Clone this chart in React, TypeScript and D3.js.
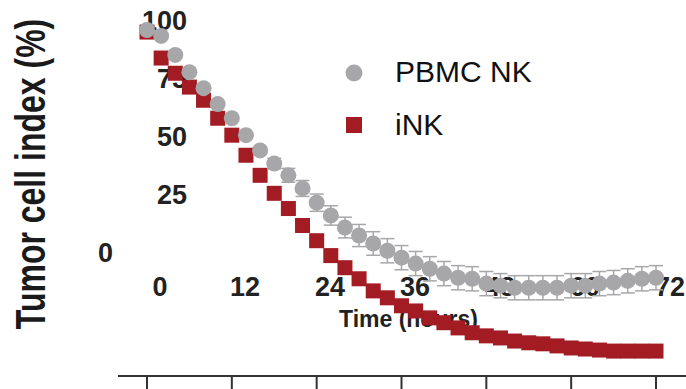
import * as d3 from 'd3';

const hours = [0, 2, 4, 6, 8, 10, 12, 14, 16, 18, 20, 22, 24, 26, 28, 30, 32, 34, 36, 38, 40, 42, 44, 46, 48, 50, 52, 54, 56, 58, 60, 62, 64, 66, 68, 70, 72];
const pbmcNK = [100, 98.3, 92.8, 87.8, 83.2, 78.6, 74.5, 69.6, 65.2, 61.4, 58.0, 54.2, 50.1, 46.4, 42.9, 40.6, 38.3, 36.2, 34.2, 32.5, 31.0, 29.6, 28.4, 28.1, 26.7, 26.1, 25.5, 25.5, 25.5, 25.5, 26.1, 26.1, 26.7, 27.0, 27.5, 28.1, 28.4];
const pbmcErr = [0.5, 0.5, 0.5, 0.5, 0.5, 0.5, 0.6, 0.8, 1.0, 1.5, 2.0, 2.3, 2.5, 2.8, 3.0, 3.2, 3.4, 3.5, 3.5, 3.5, 3.5, 3.5, 3.5, 3.5, 3.5, 3.5, 3.5, 3.5, 3.5, 3.5, 3.5, 3.5, 3.5, 3.5, 3.5, 3.5, 3.5];
const iNK = [99.4, 91.9, 87.5, 83.5, 79.7, 74.5, 69.6, 63.8, 58.0, 52.8, 48.4, 43.5, 39.1, 34.8, 31.3, 28.1, 24.6, 22.6, 20.3, 18.8, 16.8, 15.4, 13.9, 12.5, 11.6, 11.0, 10.1, 9.6, 9.3, 8.7, 8.1, 7.8, 7.5, 7.2, 7.2, 7.2, 7.2];
const iNKErr = [0.5, 0.5, 0.5, 0.5, 0.5, 0.5, 0.5, 0.5, 0.6, 0.6, 0.7, 0.7, 0.8, 0.8, 0.8, 0.9, 0.9, 1.0, 1.0, 1.0, 1.0, 1.0, 1.1, 1.1, 1.2, 1.2, 1.2, 1.3, 1.3, 1.3, 1.4, 1.4, 1.5, 1.5, 1.5, 1.5, 1.5];
const xTickLabels = [0, 12, 24, 36, 48, 60, 72];
const yTickLabels = [0, 25, 50, 75, 100];
const seriesNames = ['PBMC NK', 'iNK'];

const W = 686;
const H = 389;
const RED = '#a31c23';
const GRAY = '#a7a7aa';
const FONT = '"Liberation Sans", Arial, sans-serif';

export default function App() {
  // data scales (the plotted marks line up with the bottom axis)
  const x = d3.scaleLinear().domain([0, 72]).range([147, 656]);
  const y = d3.scaleLinear().domain([0, 100]).range([376, 30]);
  // tick label placement in the source figure is shifted from the marks
  const xLab = d3.scaleLinear().domain([0, 72]).range([160, 670]);
  const yLab = d3.scaleLinear().domain([0, 100]).range([262, 30]);

  const gray = hours.map((h, i) => ({ h, v: pbmcNK[i], e: pbmcErr[i] }));
  const red = hours.map((h, i) => ({ h, v: iNK[i], e: iNKErr[i] }));
  const cap = 7;
  const sq = 15;

  return (
    <div style={{ position: 'absolute', left: 0, top: 0 }}>
      <svg width={W} height={H} style={{ display: 'block', background: '#fff' }}>
        {/* y title */}
        <text
          transform={`translate(45,174) rotate(-90) scale(1,1.3)`}
          textAnchor="middle"
          fontFamily={FONT}
          fontWeight="bold"
          fontSize={32}
          fill="#1a1a1a"
        >
          Tumor cell index (%)
        </text>
        {/* y tick labels */}
        {yTickLabels.map(t => (
          <text
            key={'y' + t}
            x={t === 0 ? 113 : 187}
            y={yLab(t)}
            textAnchor="end"
            fontFamily={FONT}
            fontWeight="bold"
            fontSize={27}
            fill="#222"
          >
            {t}
          </text>
        ))}
        {/* x tick labels */}
        {xTickLabels.map(t => (
          <text
            key={'x' + t}
            x={xLab(t)}
            y={296}
            textAnchor="middle"
            fontFamily={FONT}
            fontWeight="bold"
            fontSize={27}
            fill="#222"
          >
            {t}
          </text>
        ))}
        <text x={339} y={327} fontFamily={FONT} fontWeight="bold" fontSize={23} fill="#222">
          Time (hours)
        </text>
        {/* bottom axis */}
        <line x1={118} x2={W} y1={376} y2={376} stroke="#333" strokeWidth={2} />
        {xTickLabels.map(t => (
          <line key={'tk' + t} x1={x(t)} x2={x(t)} y1={376} y2={H} stroke="#333" strokeWidth={2} />
        ))}
        {/* iNK */}
        <g>
          {red.map(d => (
            <g key={'re' + d.h} stroke={RED} strokeWidth={1.5}>
              <line x1={x(d.h)} x2={x(d.h)} y1={y(d.v - d.e)} y2={y(d.v + d.e)} />
              <line x1={x(d.h) - cap} x2={x(d.h) + cap} y1={y(d.v + d.e)} y2={y(d.v + d.e)} />
              <line x1={x(d.h) - cap} x2={x(d.h) + cap} y1={y(d.v - d.e)} y2={y(d.v - d.e)} />
            </g>
          ))}
          {red.map(d => (
            <rect key={'r' + d.h} x={x(d.h) - sq / 2} y={y(d.v) - sq / 2} width={sq} height={sq} fill={RED} />
          ))}
        </g>
        {/* PBMC NK */}
        <g>
          {gray.map(d => (
            <g key={'ge' + d.h} stroke={GRAY} strokeWidth={1.5}>
              <line x1={x(d.h)} x2={x(d.h)} y1={y(d.v - d.e)} y2={y(d.v + d.e)} />
              <line x1={x(d.h) - cap} x2={x(d.h) + cap} y1={y(d.v + d.e)} y2={y(d.v + d.e)} />
              <line x1={x(d.h) - cap} x2={x(d.h) + cap} y1={y(d.v - d.e)} y2={y(d.v - d.e)} />
            </g>
          ))}
          {gray.map(d => (
            <circle key={'g' + d.h} cx={x(d.h)} cy={y(d.v)} r={8} fill={GRAY} />
          ))}
        </g>
        {/* legend */}
        <circle cx={354} cy={73} r={8.5} fill={GRAY} />
        <text x={395} y={82} fontFamily={FONT} fontSize={30} fill="#111">{seriesNames[0]}</text>
        <rect x={346} y={117} width={16} height={16} fill={RED} />
        <text x={395} y={135} fontFamily={FONT} fontSize={30} fill="#111">{seriesNames[1]}</text>
      </svg>
    </div>
  );
}
